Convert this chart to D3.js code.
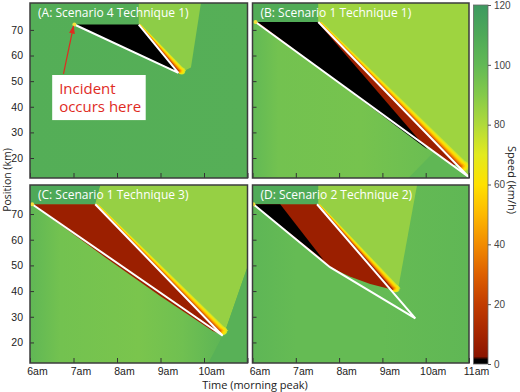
<!DOCTYPE html>
<html>
<head>
<meta charset="utf-8">
<script src="https://cdn.jsdelivr.net/npm/d3@7"></script>
<style>
  body { margin: 0; background: #fff; }
  svg { display: block; font-family: "Open Sans", sans-serif; }
</style>
</head>
<body>
<script>
// colour map of the speed bar (km/h -> colour)
var speedStops = [0, 1.5, 2.5, 10, 20, 30, 40, 50, 60, 70, 80, 90, 100, 110, 120];
var speedColors = ["#000000", "#000000", "#8b1500", "#a52500", "#c23c00", "#de6000", "#f28c00",
                   "#fdb900", "#ffe100", "#e2ea1e", "#b0da3a", "#84ca4a", "#62b955", "#4ea958", "#3d9a60"];

var hourTicks = [6, 7, 8, 9, 10, 11];
var hourLabels = ["6am", "7am", "8am", "9am", "10am", "11am"];
var kmTicks = [20, 30, 40, 50, 60, 70];
var speedTicks = [0, 20, 40, 60, 80, 100, 120];

var titles = ["(A: Scenario 4 Technique 1)", "(B: Scenario 1 Technique 1)",
              "(C: Scenario 1 Technique 3)", "(D: Scenario 2 Technique 2)"];

// ---- panel A ----  points are [hour, km], speeds km/h
var incidentA = [7.02, 72.1];
var bgA = [[6, 107], [11, 106]];
var zonesA = [
  { speed: 88, pts: [[8.5, 80.5], [9.93, 80.5], [9.7, 55.3], [9.47, 53.4], [8.5, 72.1]] }
];
var queueA = [
  { speed: 0, pts: [[7.02, 72.1], [8.5, 72.1], [9.42, 53.4]] }
];
var frontA = { from: [8.5, 72.1], to: [9.39, 54], w: [0.05, 0.2] };
var linesA = [[7.02, 72.1], [9.41, 53.2], [8.5, 72.1]];

// ---- panel B ----
var incidentB = [6.07, 73.1];
var bgB = [[6, 100], [6.6, 95], [8.5, 94], [10, 97], [11, 102]];
var zonesB = [
  { speed: 108, pts: [[6, 80.5], [7.52, 80.5], [7.52, 73.1], [6, 73.1]] },
  { speed: 84, pts: [[7.52, 80.5], [11, 80.5], [11, 12.5], [7.52, 73.1]] },
  { speed: 101, pts: [[9.6, 12.2], [11, 12.2], [10.2, 22.5]] }
];
var queueB = [
  { speed: 7, pts: [[6.07, 73.1], [7.52, 73.1], [10.72, 17.3], [10.6, 17.3]] },
  { speed: 0, pts: [[6.12, 73.1], [7.5, 73.1], [10.04, 23.3]] }
];
var frontB = { from: [7.52, 73.1], to: [10.75, 16.8], w: [0.08, 0.28] };
var linesB = [[6.07, 73.1], [11, 12.5], [7.52, 73.1]];

// ---- panel C ----
var incidentC = [6.05, 73.8];
var bgC = [[6, 101], [6.7, 95], [8.5, 93], [9.5, 96], [10.5, 103], [11, 106]];
var zonesC = [
  { speed: 110, pts: [[6, 81.3], [7.62, 81.3], [7.5, 73.8], [6, 73.8]] },
  { speed: 86, pts: [[7.62, 81.3], [11, 81.3], [11, 49.5], [10.52, 26], [10.43, 22.7], [7.5, 73.8]] },
  { speed: 105, pts: [[10.43, 22.7], [10.52, 26], [11, 49.5], [11, 12], [10.1, 12]] }
];
var queueC = [
  { speed: 7, pts: [[6.05, 73.8], [7.5, 73.8], [10.43, 22.7], [10.2, 24.5], [9.0, 38], [7.7, 53.5]] }
];
var frontC = { from: [7.5, 73.8], to: [10.32, 24.5], w: [0.07, 0.24] };
var linesC = [[6.05, 73.8], [10.43, 22.6], [7.5, 73.8]];

// ---- panel D ----
var incidentD = [6.02, 73.8];
var bgD = [[6, 102], [7, 99], [9, 99], [11, 101]];
var zonesD = [
  { speed: 109, pts: [[6, 81.3], [7.52, 81.3], [7.52, 73.8], [6, 73.8]] },
  { speed: 86, pts: [[7.52, 81.3], [9.8, 81.3], [9.38, 42.5], [9.28, 41], [7.52, 73.8]] }
];
var queueD = [
  { speed: 7, pts: [[6.02, 73.8], [7.49, 73.8], [9.26, 40.4], [8.72, 42.8], [8.26, 45.6], [7.79, 49.3]] },
  { speed: 0, pts: [[6.02, 73.8], [6.64, 73.8], [7.64, 52.1]] }
];
var frontD = { from: [7.5, 73.8], to: [9.2, 41], w: [0.06, 0.22] };
var linesD = [[6.02, 73.8], [7.79, 49.3], [9.76, 29.4], [7.49, 73.8]];

var panels = [
  { key: "A", col: 0, row: 0, bg: bgA, zones: zonesA, queue: queueA, front: frontA, lines: linesA, incident: incidentA },
  { key: "B", col: 1, row: 0, bg: bgB, zones: zonesB, queue: queueB, front: frontB, lines: linesB, incident: incidentB },
  { key: "C", col: 0, row: 1, bg: bgC, zones: zonesC, queue: queueC, front: frontC, lines: linesC, incident: incidentC },
  { key: "D", col: 1, row: 1, bg: bgD, zones: zonesD, queue: queueD, front: frontD, lines: linesD, incident: incidentD }
];

// layout
var cols = [[30, 247.5], [252.5, 469]];
var rows = [[3, 178], [185, 363]];
var kmDomains = [[12.2, 80.5], [12, 81.3]];

// recovery front shading, outer to inner
var bandLevels = [
  { f: 1, s: 74 }, { f: 0.86, s: 66 }, { f: 0.72, s: 59 }, { f: 0.58, s: 51 },
  { f: 0.45, s: 42 }, { f: 0.32, s: 32 }, { f: 0.2, s: 21 }, { f: 0.1, s: 10 }
];

var color = d3.scaleLinear().domain(speedStops).range(speedColors).clamp(true);

var svg = d3.select("body").append("svg")
    .attr("width", 520)
    .attr("height", 392);
var defs = svg.append("defs");

defs.append("marker")
    .attr("id", "arrow")
    .attr("viewBox", "0 0 10 10")
    .attr("refX", 9).attr("refY", 5)
    .attr("markerWidth", 7).attr("markerHeight", 7)
    .attr("orient", "auto")
    .append("path")
    .attr("d", "M0,1.5L10,5L0,8.5Z")
    .attr("fill", "#e02b1f");

panels.forEach(function (p, i) {
    var x = d3.scaleLinear().domain([6, 11]).range(cols[p.col]);
    var y = d3.scaleLinear().domain(kmDomains[p.row]).range([rows[p.row][1], rows[p.row][0]]);
    var x0 = cols[p.col][0], x1 = cols[p.col][1];
    var y0 = rows[p.row][0], y1 = rows[p.row][1];
    var line = d3.line().x(function (d) { return x(d[0]); }).y(function (d) { return y(d[1]); });

    defs.append("clipPath").attr("id", "clip" + p.key)
        .append("rect").attr("x", x0).attr("y", y0).attr("width", x1 - x0).attr("height", y1 - y0);

    // background, shaded from left to right
    var grad = defs.append("linearGradient")
        .attr("id", "bg" + p.key)
        .attr("gradientUnits", "userSpaceOnUse")
        .attr("x1", x(6)).attr("x2", x(11)).attr("y1", 0).attr("y2", 0);
    grad.selectAll("stop")
        .data(p.bg)
        .enter().append("stop")
        .attr("offset", function (d) { return (d[0] - 6) / 5; })
        .attr("stop-color", function (d) { return color(d[1]); });

    var g = svg.append("g").attr("clip-path", "url(#clip" + p.key + ")");

    g.append("rect")
        .attr("x", x0).attr("y", y0).attr("width", x1 - x0).attr("height", y1 - y0)
        .attr("fill", "url(#bg" + p.key + ")");

    g.selectAll(".zone")
        .data(p.zones)
        .enter().append("path")
        .attr("d", function (d) { return line(d.pts) + "Z"; })
        .attr("fill", function (d) { return color(d.speed); });

    // recovery front (yellow/orange band) with a rounded tip
    var fr = p.front;
    bandLevels.forEach(function (b) {
        var pts = [fr.from, fr.to, [fr.to[0] + b.f * fr.w[1], fr.to[1]], [fr.from[0] + b.f * fr.w[0], fr.from[1]]];
        g.append("path").attr("d", line(pts) + "Z").attr("fill", color(b.s));
        g.append("circle")
            .attr("cx", x(fr.to[0] + b.f * fr.w[1] / 2))
            .attr("cy", y(fr.to[1]))
            .attr("r", 0.4 * (x(fr.to[0] + b.f * fr.w[1]) - x(fr.to[0])))
            .attr("fill", color(b.s));
    });

    g.selectAll(".queue")
        .data(p.queue)
        .enter().append("path")
        .attr("d", function (d) { return line(d.pts) + "Z"; })
        .attr("fill", function (d) { return color(d.speed); });

    g.append("path")
        .attr("d", line(p.lines))
        .attr("fill", "none")
        .attr("stroke", "#fff")
        .attr("stroke-width", 2)
        .attr("stroke-linejoin", "miter");

    g.append("circle")
        .attr("cx", x(p.incident[0])).attr("cy", y(p.incident[1]))
        .attr("r", 2).attr("fill", "#f3e23c");

    g.append("text")
        .attr("x", x0 + 8).attr("y", y0 + 13.5)
        .attr("fill", "#fff")
        .style("font-size", "12px")
        .text(titles[i]);

    // axes
    var ya = svg.append("g")
        .attr("transform", "translate(" + x0 + ",0)")
        .attr("color", "#333")
        .call(d3.axisLeft(y).tickValues(kmTicks).tickSize(-4).tickPadding(7)
            .tickFormat(p.col === 0 ? d3.format("d") : function () { return ""; }));
    ya.select(".domain").remove();
    ya.selectAll("text").style("font-size", "10.5px").attr("fill", "#222");

    // left bottom panel stops at 10am, right one shows 6am..11am
    var xa = svg.append("g")
        .attr("transform", "translate(0," + y1 + ")")
        .attr("color", "#333")
        .call(d3.axisBottom(x).tickValues(hourTicks).tickSize(-5).tickPadding(5)
            .tickFormat(function (d, k) {
                if (p.row !== 1 || (p.col === 0 && k === hourTicks.length - 1)) return "";
                return hourLabels[k];
            }));
    xa.select(".domain").remove();
    xa.selectAll("text").style("font-size", "10.5px").attr("fill", "#222").attr("dx", 7);

    svg.append("rect")
        .attr("x", x0).attr("y", y0).attr("width", x1 - x0).attr("height", y1 - y0)
        .attr("fill", "none")
        .attr("stroke", "#3c3c3c")
        .attr("stroke-width", 1.5);

    // annotation in panel A
    if (p.key === "A") {
        svg.append("rect")
            .attr("x", x(6.51)).attr("y", y(52.4))
            .attr("width", x(8.66) - x(6.51)).attr("height", y(34.8) - y(52.4))
            .attr("fill", "#fff");
        var note = svg.append("text")
            .attr("fill", "#e02b1f")
            .style("font-size", "15px");
        note.append("tspan").attr("x", x(6.67)).attr("y", y(44.9)).text("Incident");
        note.append("tspan").attr("x", x(6.67)).attr("y", y(37.8)).text("occurs here");
        svg.append("line")
            .attr("x1", x(6.77)).attr("y1", y(52.8))
            .attr("x2", x(7.0)).attr("y2", y(71.5))
            .attr("stroke", "#e02b1f")
            .attr("stroke-width", 1.2)
            .attr("marker-end", "url(#arrow)");
    }
});

// colour bar
var cy = d3.scaleLinear().domain([0, 120]).range([364, 5]);
var cbar = defs.append("linearGradient")
    .attr("id", "cbar")
    .attr("gradientUnits", "userSpaceOnUse")
    .attr("x1", 0).attr("x2", 0).attr("y1", cy(0)).attr("y2", cy(120));
cbar.selectAll("stop")
    .data(speedStops)
    .enter().append("stop")
    .attr("offset", function (d) { return d / 120; })
    .attr("stop-color", function (d) { return color(d); });

svg.append("rect")
    .attr("x", 473.5).attr("y", cy(120))
    .attr("width", 14.5).attr("height", cy(0) - cy(120))
    .attr("fill", "url(#cbar)")
    .attr("stroke", "#666")
    .attr("stroke-width", 0.8);

var ca = svg.append("g")
    .attr("transform", "translate(488,0)")
    .attr("color", "#555")
    .call(d3.axisRight(cy).tickValues(speedTicks).tickSize(3).tickPadding(3));
ca.select(".domain").remove();
ca.selectAll("text").style("font-size", "10px").attr("fill", "#444");

// axis titles
svg.append("text")
    .attr("transform", "translate(11,180) rotate(-90)")
    .attr("text-anchor", "middle")
    .attr("fill", "#222")
    .style("font-size", "10.5px")
    .text("Position (km)");

svg.append("text")
    .attr("x", 255).attr("y", 389)
    .attr("text-anchor", "middle")
    .attr("fill", "#222")
    .style("font-size", "11px")
    .text("Time (morning peak)");

svg.append("text")
    .attr("transform", "translate(508,180) rotate(90)")
    .attr("text-anchor", "middle")
    .attr("fill", "#222")
    .style("font-size", "11px")
    .text("Speed (km/h)");
</script>
</body>
</html>
